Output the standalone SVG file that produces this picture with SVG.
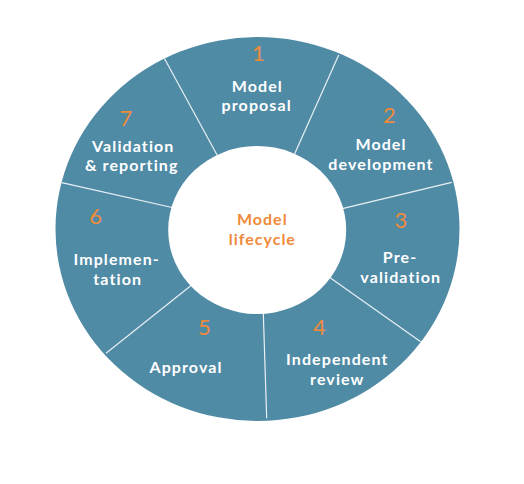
<svg xmlns="http://www.w3.org/2000/svg" width="524" height="484" viewBox="0 0 524 484">
  <style>
    .ring { fill: #508ba6; }
    .hole { fill: #ffffff; }
    .div { stroke: #e8f0f4; stroke-width: 1.2; fill: none; }
    .num { font-family: Lato, "Open Sans", "Liberation Sans", sans-serif; font-weight: 400; font-size: 22px; fill: #ef8a3b; text-anchor: middle; }
    .lbl { font-family: Lato, "Liberation Sans", sans-serif; font-weight: 700; font-size: 16px; letter-spacing: 1.1px; fill: #ffffff; text-anchor: middle; }
    .ctr { font-family: Lato, "Liberation Sans", sans-serif; font-weight: 700; font-size: 16px; letter-spacing: 1px; fill: #ef8a3b; text-anchor: middle; }
  </style>
  <rect width="524" height="484" fill="#ffffff"/>
  <g id="ring">
    <ellipse class="ring" cx="257.5" cy="229" rx="202" ry="192"/>
  </g>
  <g id="connectors">
    <line class="div" x1="164.3" y1="58.3" x2="222" y2="164"/>
    <line class="div" x1="338.7" y1="55" x2="291" y2="162"/>
    <line class="div" x1="451.7" y1="182.3" x2="335" y2="210.3"/>
    <line class="div" x1="420.7" y1="341.7" x2="322" y2="272"/>
    <line class="div" x1="266.7" y1="418.3" x2="263" y2="304"/>
    <line class="div" x1="106" y1="353.3" x2="198" y2="280"/>
    <line class="div" x1="61.7" y1="182.7" x2="181" y2="209.5"/>
  </g>
  <g id="center">
    <ellipse class="hole" cx="257.2" cy="230" rx="89" ry="84"/>
    <text class="ctr" x="262.3" y="225">Model</text>
    <text class="ctr" x="262.3" y="244.5">lifecycle</text>
  </g>
  <g id="step1">
    <text class="num" x="258.3" y="60.7">1</text>
    <text class="lbl" x="257.3" y="91.7">Model</text>
    <text class="lbl" x="256.7" y="111.2">proposal</text>
  </g>
  <g id="step2">
    <text class="num" x="389.3" y="122.7">2</text>
    <text class="lbl" x="381" y="150">Model</text>
    <text class="lbl" x="381" y="169.5">development</text>
  </g>
  <g id="step3">
    <text class="num" x="401" y="228.3">3</text>
    <text class="lbl" x="400" y="263.3">Pre-</text>
    <text class="lbl" x="400.7" y="283.3">validation</text>
  </g>
  <g id="step4">
    <text class="num" x="319.3" y="335">4</text>
    <text class="lbl" x="337.3" y="365">Independent</text>
    <text class="lbl" x="337.3" y="384.5">review</text>
  </g>
  <g id="step5">
    <text class="num" x="204.3" y="335">5</text>
    <text class="lbl" x="186" y="372.7">Approval</text>
  </g>
  <g id="step6">
    <text class="num" x="95.7" y="224.3">6</text>
    <text class="lbl" x="116.7" y="265">Implemen-</text>
    <text class="lbl" x="117.7" y="284.5">tation</text>
  </g>
  <g id="step7">
    <text class="num" x="126" y="126">7</text>
    <text class="lbl" x="133.3" y="151.7">Validation</text>
    <text class="lbl" x="131.7" y="171.2">&amp; reporting</text>
  </g>
</svg>
